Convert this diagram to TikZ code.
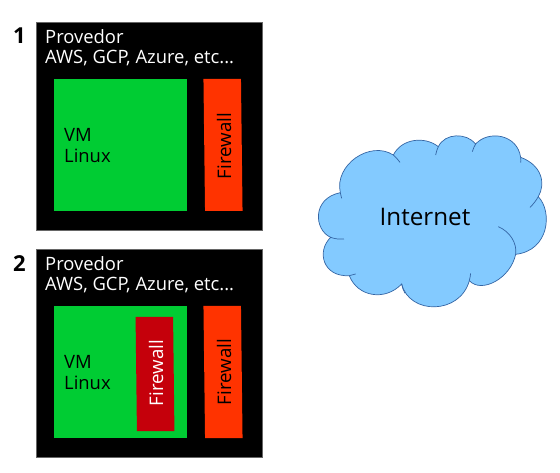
\documentclass[tikz,border=0pt]{standalone}
\usepackage{fontspec}
\setmainfont{Open Sans}
\definecolor{vmgreen}{HTML}{00CC33}
\definecolor{wallorange}{HTML}{FF3300}
\definecolor{wallred}{HTML}{C5000B}
\definecolor{cloudblue}{HTML}{83CAFF}
\definecolor{cloudline}{HTML}{3465A4}
\tikzset{
    provider/.style={fill=black, draw=black!60, line width=0.4pt, minimum width=226pt, minimum height=208pt, inner sep=0pt},
    providertext/.style={text=white, align=left, anchor=north west, inner sep=0pt, font=\fontsize{18.4}{20}\selectfont},
    vmbox/.style={fill=vmgreen, minimum width=133pt, minimum height=132pt, inner sep=0pt},
    vmtext/.style={align=left, anchor=north west, inner sep=0pt, font=\fontsize{18.4}{21}\selectfont},
    outerwall/.style={fill=wallorange, minimum width=37.5pt, minimum height=132pt, inner sep=0pt, xslant=-0.012},
    innerwall/.style={fill=wallred, text=white, minimum width=37.5pt, minimum height=114pt, inner sep=0pt, xslant=-0.012},
    walltext/.style={rotate=90, inner sep=0pt, font=\fontsize{18.7}{20}\selectfont},
    number/.style={inner sep=0pt, font=\fontsize{22}{24}\selectfont\bfseries},
    cloudedge/.style={draw=cloudline, line width=0.7pt}
}
\begin{document}
\begin{tikzpicture}[x=1pt, y=-1pt]
    \useasboundingbox (0,0) rectangle (560,473);
    % situation 1
    \node[number] (n1) at (19.5,36) {1};
    \node[provider] (p1) at (149,126) {};
    \node[providertext] (t1) at (45,29) {Provedor\\AWS, GCP, Azure, etc...};
    \node[vmbox] (vm1) at (120.5,145) {};
    \node[vmtext] (l1) at (64,128) {VM\\Linux};
    \node[outerwall] (f1) at (223,145) {};
    \node[walltext] (w1) at (224,146) {Firewall};
    % situation 2
    \node[number] (n2) at (19.5,264) {2};
    \node[provider] (p2) at (149,353) {};
    \node[providertext] (t2) at (45,256) {Provedor\\AWS, GCP, Azure, etc...};
    \node[vmbox] (vm2) at (120.5,372) {};
    \node[vmtext] (l2) at (64,355) {VM\\Linux};
    \node[innerwall] (g2) at (155,374) {};
    \node[walltext, text=white] (h2) at (156,373) {Firewall};
    \node[outerwall] (f2) at (223,372) {};
    \node[walltext] (w2) at (224,372) {Firewall};
    % cloud
    \begin{scope}[shift={(310,130)}, x=0.3333pt, y=-0.3333pt]
        \draw[fill=cloudblue, cloudedge]
            (62,322) .. controls (12,300) and (5,205) .. (91,188)
            .. controls (72,105) and (180,30) .. (250,75)
            .. controls (275,25) and (345,18) .. (385,50)
            .. controls (405,8) and (470,8) .. (497,42)
            .. controls (535,0) and (622,12) .. (632,82)
            .. controls (695,105) and (708,160) .. (685,200)
            .. controls (728,245) and (718,362) .. (617,373)
            .. controls (602,445) and (515,492) .. (478,452)
            .. controls (450,555) and (298,555) .. (275,462)
            .. controls (225,515) and (142,500) .. (118,437)
            .. controls (40,442) and (18,365) .. (62,322) -- cycle;
        \draw[cloudedge] (91,188) .. controls (92,195) and (94,200) .. (95,205);
        \draw[cloudedge] (62,322) .. controls (75,327) and (88,328) .. (102,327);
        \draw[cloudedge] (118,437) .. controls (125,436) and (130,435) .. (137,432);
        \draw[cloudedge] (275,462) .. controls (277,472) and (280,482) .. (285,490);
        \draw[cloudedge] (478,452) .. controls (480,445) and (481,437) .. (482,430);
        \draw[cloudedge] (617,373) .. controls (622,340) and (600,305) .. (565,290);
        \draw[cloudedge] (685,200) .. controls (678,212) and (670,223) .. (660,232);
        \draw[cloudedge] (632,82) .. controls (633,88) and (633,93) .. (632,98);
        \draw[cloudedge] (497,42) .. controls (493,48) and (490,56) .. (487,65);
        \draw[cloudedge] (385,50) .. controls (381,58) and (379,66) .. (377,75);
        \draw[cloudedge] (250,75) .. controls (258,82) and (264,89) .. (270,97);
    \end{scope}
    \node[inner sep=0pt, font=\fontsize{24.2}{28}\selectfont] (net) at (425,217) {Internet};
\end{tikzpicture}
\end{document}
